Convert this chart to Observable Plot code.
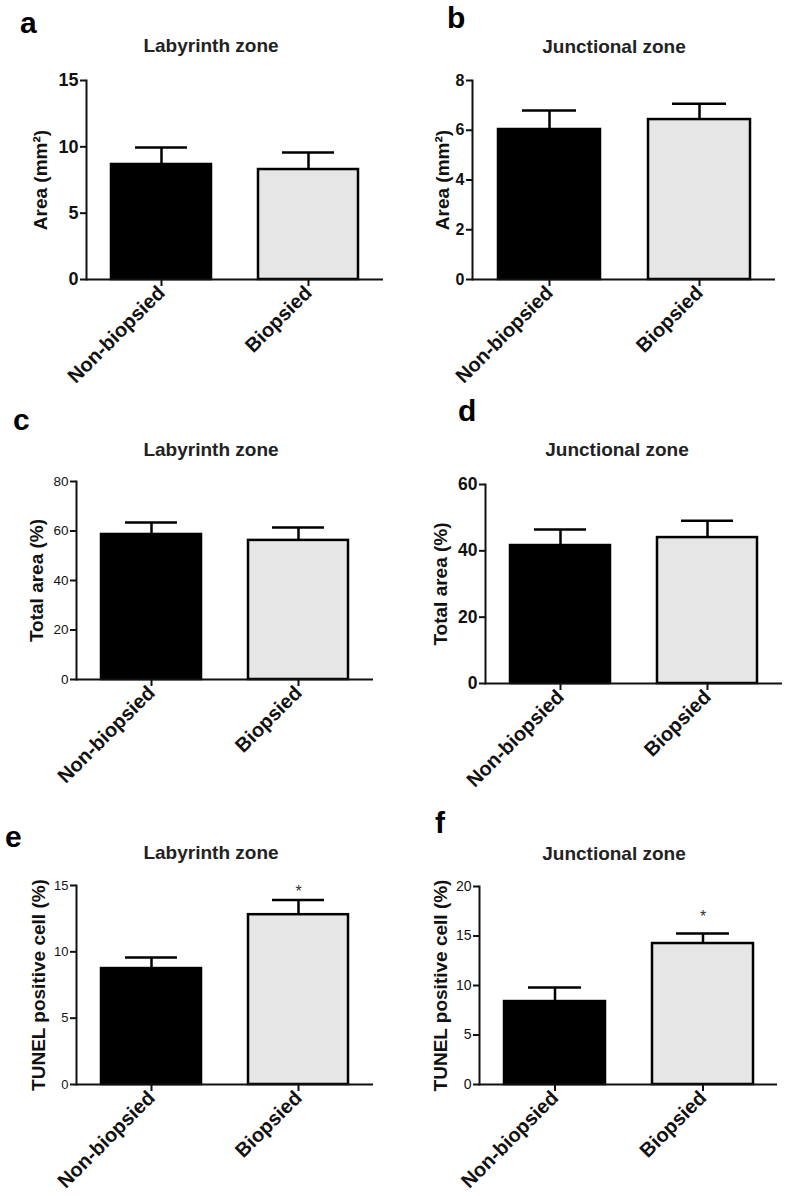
<!DOCTYPE html>
<html>
<head>
<meta charset="utf-8">
<script src="https://cdn.jsdelivr.net/npm/d3@7"></script>
<script src="https://cdn.jsdelivr.net/npm/@observablehq/plot@0.6"></script>
<style>
  html, body { margin: 0; padding: 0; background: #fff; }
  #page { position: relative; width: 787px; height: 1196px; background: #fff; overflow: hidden; }
</style>
</head>
<body>
<div id="page"></div>
<script>
// ---------- data ----------
const categories = ["Non-biopsied", "Biopsied"];
const panelLetters = ["a", "b", "c", "d", "e", "f"];
const titles = ["Labyrinth zone", "Junctional zone", "Labyrinth zone", "Junctional zone", "Labyrinth zone", "Junctional zone"];
const yLabels = ["Area (mm²)", "Area (mm²)", "Total area (%)", "Total area (%)", "TUNEL positive cell (%)", "TUNEL positive cell (%)"];

const areaLab = [8.67, 8.29];
const areaLabErr = [1.28, 1.28];
const areaJun = [6.03, 6.43];
const areaJunErr = [0.76, 0.64];
const totalLab = [58.6, 56.2];
const totalLabErr = [4.8, 5.2];
const totalJun = [41.6, 44.0];
const totalJunErr = [4.8, 5.1];
const tunelLab = [8.74, 12.8];
const tunelLabErr = [0.83, 1.1];
const tunelJun = [8.38, 14.24];
const tunelJunErr = [1.42, 1.01];
const stars = ["", "*"];

const yMax = [15, 8, 80, 60, 15, 20];
const ticksA = [0, 5, 10, 15];
const ticksB = [0, 2, 4, 6, 8];
const ticksC = [0, 20, 40, 60, 80];
const ticksD = [0, 20, 40, 60];
const ticksE = [0, 5, 10, 15];
const ticksF = [0, 5, 10, 15, 20];

// ---------- layout ----------
const FONT = "'Liberation Sans', Arial, Helvetica, sans-serif";
const layout = [
  {vals: areaLab,  errs: areaLabErr,  ticks: ticksA, showStars: false, left: 0,   top: 0,   w: 393, h: 400, ml: 86, mr: 10, mt: 80, mb: 121, tickFs: 18, tickFw: "bold",   ylabDx: -46, letterX: 20,  letterY: 33,  titleX: 211, titleY: 52,  starDy: 0},
  {vals: areaJun,  errs: areaJunErr,  ticks: ticksB, showStars: false, left: 393, top: 0,   w: 394, h: 400, ml: 79, mr: 12, mt: 80, mb: 121, tickFs: 16, tickFw: "bold",   ylabDx: -30, letterX: 447, letterY: 28,  titleX: 614, titleY: 53,  starDy: 0},
  {vals: totalLab, errs: totalLabErr, ticks: ticksC, showStars: false, left: 0,   top: 400, w: 393, h: 400, ml: 76, mr: 20, mt: 81, mb: 121, tickFs: 13.5, tickFw: "normal", ylabDx: -40, letterX: 13,  letterY: 430, titleX: 211, titleY: 456, starDy: 0},
  {vals: totalJun, errs: totalJunErr, ticks: ticksD, showStars: false, left: 393, top: 400, w: 394, h: 400, ml: 92, mr: 5,  mt: 84, mb: 117, tickFs: 17.5, tickFw: "bold",   ylabDx: -45, letterX: 458, letterY: 421, titleX: 617, titleY: 456, starDy: 0},
  {vals: tunelLab, errs: tunelLabErr, ticks: ticksE, showStars: true,  left: 0,   top: 800, w: 393, h: 396, ml: 76, mr: 20, mt: 85, mb: 112, tickFs: 13, tickFw: "normal", ylabDx: -38, letterX: 5,   letterY: 847, titleX: 211, titleY: 859, starDy: -8},
  {vals: tunelJun, errs: tunelJunErr, ticks: ticksF, showStars: true,  left: 393, top: 800, w: 394, h: 396, ml: 86, mr: 10, mt: 86, mb: 112, tickFs: 14, tickFw: "normal", ylabDx: -39, letterX: 435, letterY: 833, titleX: 614, titleY: 860, starDy: -17}
];

const page = document.getElementById("page");

layout.forEach((p, i) => {
  const rows = categories.map((c, j) => ({cat: c, val: p.vals[j], err: p.errs[j], star: stars[j]}));
  const chart = Plot.plot({
    width: p.w,
    height: p.h,
    marginLeft: p.ml,
    marginRight: p.mr,
    marginTop: p.mt,
    marginBottom: p.mb,
    x: {domain: categories, paddingInner: 0.32, paddingOuter: 0.165, label: null},
    y: {domain: [0, yMax[i]], label: null},
    color: {domain: categories, range: ["#000000", "#e6e6e6"]},
    style: {
      position: "absolute",
      left: p.left + "px",
      top: p.top + "px",
      fontFamily: FONT,
      color: "#111",
      background: "transparent",
      overflow: "visible",
      maxWidth: "none"
    },
    marks: [
      Plot.barY(rows, {x: "cat", y: "val", fill: "cat", stroke: "#000", strokeWidth: 2.5}),
      Plot.ruleX(rows, {x: "cat", y1: "val", y2: d => d.val + d.err, stroke: "#000", strokeWidth: 2.5}),
      Plot.tickY(rows, {x: "cat", y: d => d.val + d.err, stroke: "#000", strokeWidth: 2.5, insetLeft: 24, insetRight: 24}),
      Plot.ruleY([0], {stroke: "#111", strokeWidth: 2}),
      Plot.frame({anchor: "left", stroke: "#111", strokeWidth: 2}),
      Plot.axisY({ticks: p.ticks, tickSize: 6, tickPadding: 2, tickFormat: d => String(d), fontSize: p.tickFs, fontWeight: p.tickFw, strokeWidth: 2, label: null}),
      Plot.axisX({tickRotate: -45, tickSize: 7, tickPadding: 3, fontSize: 20, fontWeight: "bold", strokeWidth: 2, label: null}),
      Plot.text([yLabels[i]], {text: d => d, frameAnchor: "left", textAnchor: "middle", rotate: -90, dx: p.ylabDx, fontSize: 19, fontWeight: "bold", fill: "#111"}),
      ...(p.showStars ? [Plot.text(rows.filter(d => d.star), {x: "cat", y: d => d.val + d.err, text: "star", dy: p.starDy, fontSize: 16, fill: "#333"})] : [])
    ]
  });
  page.appendChild(chart);
});

// overlay with panel letters and titles
const overlay = d3.select(page).append("svg")
  .attr("width", 787).attr("height", 1196)
  .style("position", "absolute").style("left", "0px").style("top", "0px")
  .style("pointer-events", "none")
  .style("font-family", FONT);

layout.forEach((p, i) => {
  overlay.append("text")
    .attr("x", p.letterX).attr("y", p.letterY)
    .attr("font-size", 30).attr("font-weight", "bold").attr("fill", "#000")
    .text(panelLetters[i]);
  overlay.append("text")
    .attr("x", p.titleX).attr("y", p.titleY)
    .attr("text-anchor", "middle")
    .attr("font-size", 19).attr("font-weight", "bold").attr("fill", "#222")
    .text(titles[i]);
});
</script>
</body>
</html>
